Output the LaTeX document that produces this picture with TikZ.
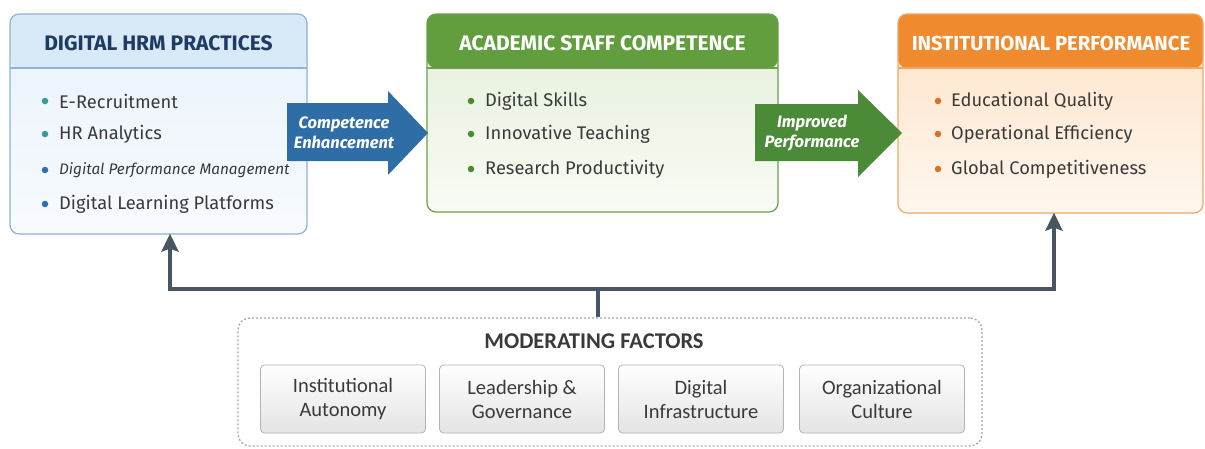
\documentclass[tikz,border=0pt]{standalone}
\usepackage{fontspec}
\setmainfont{Fira Sans}
\newfontfamily\condfont{Carlito}
\usetikzlibrary{arrows.meta}
\definecolor{bluebd}{HTML}{8DB3D9}
\definecolor{bluehd}{HTML}{D8E9F7}
\definecolor{bluetop}{HTML}{E8F2FB}
\definecolor{bluebot}{HTML}{F8FBFE}
\definecolor{bluetitle}{HTML}{1F3B63}
\definecolor{greenbd}{HTML}{6B9F4C}
\definecolor{greenhd}{HTML}{629E3E}
\definecolor{greentop}{HTML}{E4EFD9}
\definecolor{greenbot}{HTML}{F8FBF4}
\definecolor{orangebd}{HTML}{F0A868}
\definecolor{orangehd}{HTML}{F08A2E}
\definecolor{orangetop}{HTML}{FDE2C6}
\definecolor{orangebot}{HTML}{FFF7EF}
\definecolor{txt}{HTML}{3A3A3A}
\definecolor{teal1}{HTML}{3A9A9A}
\definecolor{blue1}{HTML}{2E6FB0}
\definecolor{green1}{HTML}{4A8A35}
\definecolor{orange1}{HTML}{E07020}
\definecolor{arrowblue}{HTML}{2F6DA6}
\definecolor{arrowgreen}{HTML}{4B8A36}
\definecolor{conn}{HTML}{4A5562}
\definecolor{factorbd}{HTML}{B4B4B4}
\definecolor{factorbot}{HTML}{E4E4E4}
\definecolor{dashgray}{HTML}{A8A8A8}
\begin{document}
\begin{tikzpicture}[x=1pt,y=-1pt,
  panel/.style 2 args={draw=#1, line width=1.2pt, rounded corners=9pt, inner sep=0pt,
    path picture={\fill[#2] (path picture bounding box.north west) rectangle ([yshift=-54pt]path picture bounding box.north east);
      \draw[#1, line width=1.2pt] ([yshift=-54pt]path picture bounding box.north west) -- ([yshift=-54pt]path picture bounding box.north east);}},
  ptitle/.style={font=\bfseries\fontsize{21}{24}\selectfont, inner sep=0pt},
  item/.style={anchor=west, font=\fontsize{18.3}{21}\selectfont, text=txt, inner sep=0pt},
  dot/.style={circle, inner sep=0pt, minimum size=6.5pt},
  alabel/.style={font=\itshape\bfseries\fontsize{16.5}{19.5}\selectfont, text=white, align=center, inner sep=0pt},
  factor/.style={draw=factorbd, line width=0.8pt, rounded corners=4pt, top color=white, bottom color=factorbot,
    minimum width=165pt, minimum height=68pt, align=center, text=txt, font=\condfont\fontsize{20.5}{24}\selectfont},
  connline/.style={draw=conn, line width=4pt},
  connarrow/.style={connline, -{Stealth[length=18pt,width=17pt,inset=3pt]}}
]
\useasboundingbox[fill=white] (0,0) rectangle (1205,448);

% panels
\node[panel={bluebd}{bluehd}, top color=bluetop, bottom color=bluebot, minimum width=297pt, minimum height=220pt] (hrm) at (158.5,124) {};
\node[panel={greenbd}{greenhd}, top color=greentop, bottom color=greenbot, minimum width=351pt, minimum height=198pt] (asc) at (602.5,113) {};
\node[panel={orangebd}{orangehd}, top color=orangetop, bottom color=orangebot, minimum width=305pt, minimum height=199pt] (ip) at (1050.5,113.5) {};

\node[ptitle, text=bluetitle] (hrmt) at (158.5,43) {DIGITAL HRM PRACTICES};
\node[ptitle, text=white] (asct) at (602.5,43) {ACADEMIC STAFF COMPETENCE};
\node[ptitle, text=white, font=\bfseries\fontsize{20.3}{24}\selectfont] (ipt) at (1051,43) {INSTITUTIONAL PERFORMANCE};

% left items
\node[dot, fill=teal1] (hb1) at (45,101) {};
\node[item] (h1) at (59,101) {E-Recruitment};
\node[dot, fill=teal1] (hb2) at (45,134) {};
\node[item] (h2) at (59,134) {HR Analytics};
\node[dot, fill=blue1] (hb3) at (45,170) {};
\node[item, font=\itshape\fontsize{15.3}{19}\selectfont] (h3) at (59,170) {Digital Performance Management};
\node[dot, fill=blue1] (hb4) at (45,204) {};
\node[item] (h4) at (59,204) {Digital Learning Platforms};

% middle items
\node[dot, fill=green1] (ab1) at (471,101) {};
\node[item] (a1) at (485,101) {Digital Skills};
\node[dot, fill=green1] (ab2) at (471,134) {};
\node[item] (a2) at (485,134) {Innovative Teaching};
\node[dot, fill=green1] (ab3) at (471,169) {};
\node[item] (a3) at (485,169) {Research Productivity};

% right items
\node[dot, fill=orange1] (ib1) at (938,101) {};
\node[item] (i1) at (951,101) {Educational Quality};
\node[dot, fill=orange1] (ib2) at (938,134) {};
\node[item] (i2) at (951,134) {Operational Efficiency};
\node[dot, fill=orange1] (ib3) at (938,169) {};
\node[item] (i3) at (951,169) {Global Competitiveness};

% big arrows
\coordinate (ar1tip) at (428,133);
\coordinate (ar2tip) at (902,133);
\fill[arrowblue] (287,103) -- (388,103) -- (388,91) -- (ar1tip) -- (388,175) -- (388,161) -- (287,161) -- cycle;
\node[alabel] (ar1t) at (344,133) {Competence\\Enhancement};
\fill[arrowgreen] (755,104) -- (858,104) -- (858,90) -- (ar2tip) -- (858,177) -- (858,161) -- (755,161) -- cycle;
\node[alabel] (ar2t) at (812,133) {Improved\\Performance};

% moderating factors
\node[draw=dashgray, line width=1.3pt, dash pattern=on 2pt off 2pt, rounded corners=12pt,
  minimum width=744pt, minimum height=128pt, inner sep=0pt] (mf) at (610,382) {};
\node[font=\condfont\bfseries\fontsize{22.5}{26}\selectfont, text=txt, inner sep=0pt] (mft) at (594,341) {MODERATING FACTORS};
\node[factor] (f1) at (343,399) {Institutional\\Autonomy};
\node[factor] (f2) at (522,399) {Leadership \&\\Governance};
\node[factor] (f3) at (701,399) {Digital\\Infrastructure};
\node[factor] (f4) at (882,399) {Organizational\\Culture};

% connectors
\coordinate (j) at (598,289);
\draw[connline] ([xshift=-12pt]mf.north) -- (j);
\draw[connarrow] (j) -| ([xshift=11.5pt,yshift=1pt]hrm.south);
\draw[connarrow] (j) -| ([xshift=3.5pt,yshift=1pt]ip.south);
\end{tikzpicture}
\end{document}
